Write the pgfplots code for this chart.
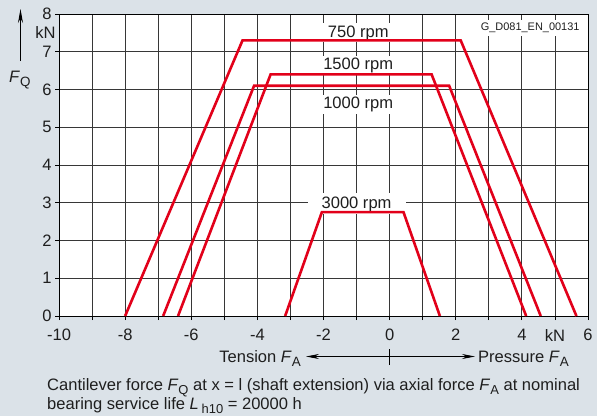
\documentclass[border=0pt]{standalone}
\usepackage{fontspec}
\setmainfont{Liberation Sans}
\usepackage{pgfplots}
\pgfplotsset{compat=1.18}
\usetikzlibrary{arrows.meta}
\definecolor{bgc}{RGB}{219,226,232}
\definecolor{redc}{RGB}{226,0,26}
\definecolor{gridc}{RGB}{55,55,55}
\definecolor{txtc}{RGB}{30,30,30}
\newcommand{\sub}[1]{\raisebox{-0.3em}{\fontsize{13.5}{13.5}\selectfont #1}}
\newcommand{\subc}[1]{\raisebox{-0.22em}{\fontsize{13}{13}\selectfont #1}}
\begin{document}
\begin{tikzpicture}[x=1bp,y=1bp,font=\fontsize{16.6}{19}\selectfont,text=txtc]
\useasboundingbox (0,0) rectangle (597,416);
\fill[bgc] (0,0) rectangle (597,416);
\begin{axis}[
  at={(59bp,100bp)}, anchor=south west,
  scale only axis, width=529bp, height=302bp,
  xmin=-10, xmax=6, ymin=0, ymax=8,
  xtick={-10,-9,...,6},
  xticklabels={-10,,-8,,-6,,-4,,-2,,0,,2,,4,kN,6},
  ytick={0,1,...,8},
  yticklabels={0,1,2,3,4,5,6,7,8},
  extra y ticks={7.5}, extra y tick labels={kN},
  extra y tick style={grid=none, major tick length=0pt},
  xtick pos=bottom, ytick pos=left,
  tick align=outside, major tick length=4bp,
  tick style={draw=black, line width=0.8bp},
  grid=major, major grid style={draw=gridc, line width=0.8bp},
  axis line style={draw=black, line width=0.9bp},
  axis background/.style={fill=white},
  ticklabel style={font=\fontsize{16.6}{19}\selectfont, text=txtc},
  xticklabel style={yshift=-5.5bp},
  /pgf/number format/assume math mode=true,
]
\node[fill=white, inner xsep=14bp, inner ysep=2bp, anchor=base] at (axis cs:-0.95,7.39) {750 rpm};
\node[fill=white, inner xsep=14bp, inner ysep=2bp, anchor=base] at (axis cs:-0.95,6.52) {1500 rpm};
\node[fill=white, inner xsep=14bp, inner ysep=2bp, anchor=base] at (axis cs:-0.95,5.49) {1000 rpm};
\node[fill=white, inner xsep=14bp, inner ysep=3bp, anchor=base] at (axis cs:-1.0,2.86) {3000 rpm};
\node[fill=white, inner xsep=6bp, inner ysep=3bp, font=\fontsize{11}{13}\selectfont] at (axis cs:4.25,7.64) {G\_D081\_EN\_00131};
\addplot[redc, line width=2.6bp] coordinates {(-8,0) (-4.45,7.3) (2.15,7.3) (5.65,0)};
\addplot[redc, line width=2.6bp] coordinates {(-6.85,0) (-4.1,6.1) (1.8,6.1) (4.57,0)};
\addplot[redc, line width=2.6bp] coordinates {(-6.4,0) (-3.6,6.4) (1.27,6.4) (4.13,0)};
\addplot[redc, line width=2.6bp] coordinates {(-3.16,0) (-2.05,2.75) (0.42,2.75) (1.52,0)};
\end{axis}
% y axis descriptor
\draw[line width=0.9bp, -{Stealth[length=14bp,width=5bp]}] (20.5,355) -- (20.5,407);
\node[anchor=base west, inner sep=0pt] at (9,334) {\textit{F}\sub{Q}};
% x axis descriptor
\draw[line width=0.8bp, {Stealth[length=13bp,width=5bp]}-{Stealth[length=13bp,width=5bp]}] (306,59.5) -- (475,59.5);
\draw[line width=0.8bp] (389,51) -- (389,67);
\node[anchor=base east, inner sep=0pt] at (301,54) {Tension \textit{F}\sub{A}};
\node[anchor=base west, inner sep=0pt] at (478,54) {Pressure \textit{F}\sub{A}};
% caption
\node[anchor=base west, inner sep=0pt] at (47,25.5) {Cantilever force \textit{F}\subc{Q} at x = l (shaft extension) via axial force \textit{F}\subc{A} at nominal};
\node[anchor=base west, inner sep=0pt] at (47,6.5) {bearing service life \textit{L}\,\subc{h10} = 20000 h};
\end{tikzpicture}
\end{document}
